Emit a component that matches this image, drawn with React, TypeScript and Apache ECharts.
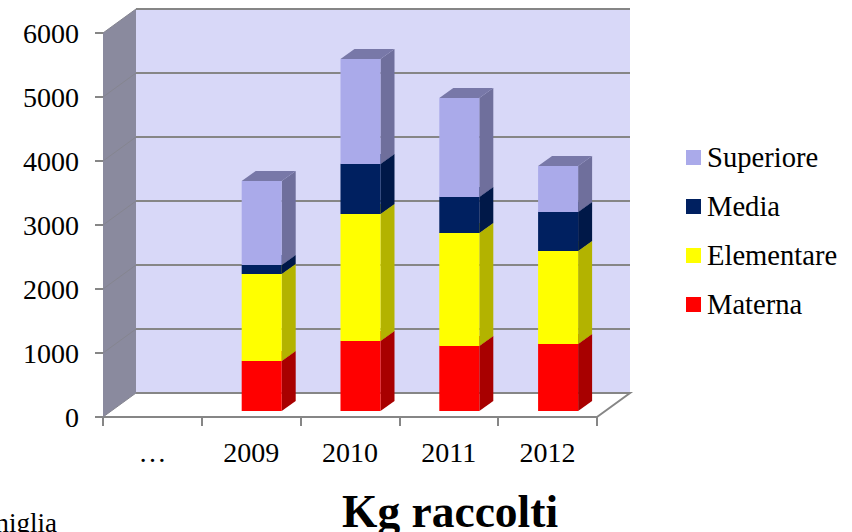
import React, { useEffect, useRef } from "react";
import * as echarts from "echarts";

const categories = ["…", "2009", "2010", "2011", "2012"];
const yearIndex = [1, 2, 3, 4];
const yTicks = [0, 1000, 2000, 3000, 4000, 5000, 6000];
const materna = [781, 1094, 1016, 1047];
const elementare = [1360, 1984, 1765, 1453];
const media = [140, 781, 563, 609];
const superiore = [1313, 1641, 1547, 719];

const FONT = "Liberation Serif";
const DX = 33, DY = 24;

const stacked = (vals: number[], below: number[][]) =>
  vals.map((v, i) => {
    const base = below.reduce((s, a) => s + a[i], 0);
    return [yearIndex[i], base, base + v];
  });

const barItem = (front: string, side: string, top: string) => (params: any, api: any) => {
  const c = api.coord([api.value(0), api.value(1)]);
  const t = api.coord([api.value(0), api.value(2)]);
  const band = api.size([1, 0])[0];
  const w = band * 0.405;
  const x0 = c[0] + 10.5 - w / 2;
  const x1 = x0 + w;
  const y0 = c[1] - 6;
  const y1 = t[1] - 6;
  const dx = 14, dy = 10;
  return {
    type: "group",
    children: [
      { type: "polygon", shape: { points: [[x1, y0], [x1 + dx, y0 - dy], [x1 + dx, y1 - dy], [x1, y1]] }, style: { fill: side } },
      { type: "polygon", shape: { points: [[x0, y1], [x1, y1], [x1 + dx, y1 - dy], [x0 + dx, y1 - dy]] }, style: { fill: top } },
      { type: "rect", shape: { x: x0, y: y1, width: w, height: y0 - y1 }, style: { fill: front } },
    ],
  };
};

const wallItem = (params: any, api: any) => {
  const cs = params.coordSys;
  const x = cs.x, r = cs.x + cs.width, top = cs.y, bot = cs.y + cs.height;
  return {
    type: "group",
    children: [
      { type: "polygon", shape: { points: [[x + DX, top - DY], [r + DX, top - DY], [r + DX, bot - DY], [x + DX, bot - DY]] }, style: { fill: "#d8d8f8" } },
      { type: "polygon", shape: { points: [[x, top], [x + DX, top - DY], [x + DX, bot - DY], [x, bot]] }, style: { fill: "#8a8a9e" } },
      { type: "polyline", shape: { points: [[x + DX, bot - DY], [r + DX, bot - DY], [r, bot]] }, style: { fill: "none", stroke: "#868686", lineWidth: 2 } },
    ],
  };
};

const gridItem = (params: any, api: any) => {
  const cs = params.coordSys;
  const y = api.coord([0, api.value(0)])[1];
  return {
    type: "group",
    children: [
      { type: "line", shape: { x1: cs.x, y1: y, x2: cs.x + DX, y2: y - DY }, style: { stroke: "#858590", lineWidth: 1 } },
      { type: "line", shape: { x1: cs.x + DX, y1: y - DY, x2: cs.x + cs.width + DX, y2: y - DY }, style: { stroke: "#868686", lineWidth: 2 } },
    ],
  };
};

const segments = [
  { name: "Materna", values: materna, below: [], front: "#ff0000", side: "#a80000", top: "#c00000" },
  { name: "Elementare", values: elementare, below: [materna], front: "#ffff00", side: "#b3b300", top: "#c8c800" },
  { name: "Media", values: media, below: [materna, elementare], front: "#002060", side: "#001848", top: "#001a50" },
  { name: "Superiore", values: superiore, below: [materna, elementare, media], front: "#aaaaea", side: "#6f6f9c", top: "#7878a8" },
];

export default function App() {
  const ref = useRef<HTMLDivElement>(null);
  useEffect(() => {
    const chart = echarts.init(ref.current!, undefined, { renderer: "svg" });
    chart.setOption({
      animation: false,
      backgroundColor: "#ffffff",
      textStyle: { fontFamily: FONT },
      grid: { left: 103, top: 33, width: 494, height: 384 },
      xAxis: {
        type: "category",
        data: categories,
        boundaryGap: true,
        axisLine: { show: true, lineStyle: { color: "#868686", width: 2 } },
        axisTick: { show: true, interval: 0, length: 9, lineStyle: { color: "#868686", width: 2 }, alignWithLabel: false },
        axisLabel: { color: "#000", fontFamily: FONT, fontSize: 28, margin: 21, interval: 0 },
      },
      yAxis: {
        type: "value",
        min: 0,
        max: 6000,
        interval: 1000,
        axisLine: { show: true, lineStyle: { color: "#868686", width: 1 } },
        axisTick: { show: true, length: 8, lineStyle: { color: "#868686", width: 2 } },
        splitLine: { show: false },
        axisLabel: { color: "#000", fontFamily: FONT, fontSize: 28, margin: 24, formatter: (v: number) => String(v) },
      },
      legend: {
        orient: "vertical",
        left: 686,
        top: 143,
        padding: 0,
        itemWidth: 15,
        itemHeight: 15,
        itemGap: 20,
        selectedMode: false,
        icon: "rect",
        data: ["Superiore", "Media", "Elementare", "Materna"],
        textStyle: { color: "#000", fontFamily: FONT, fontSize: 28.6, padding: [0, 0, 0, 1] },
      },
      title: {
        text: "Kg raccolti",
        left: 342,
        top: 488,
        textStyle: { color: "#000", fontFamily: FONT, fontSize: 45.5, fontWeight: "bold" },
        padding: 0,
      },
      graphic: [
        {
          type: "text",
          right: 795,
          top: 509,
          style: { text: "Famiglia", fill: "#000", font: `27px "${FONT}"` },
        },
      ],
      series: [
        { type: "custom", name: "wall", silent: true, z: 1, renderItem: wallItem, data: [[0]], encode: { y: 0 }, coordinateSystem: "cartesian2d" },
        { type: "custom", name: "grid", silent: true, z: 1, renderItem: gridItem, data: yTicks.map((v) => [v]), encode: { y: 0 }, coordinateSystem: "cartesian2d" },
        ...segments.map((s) => ({
          type: "custom",
          name: s.name,
          z: 2,
          coordinateSystem: "cartesian2d",
          renderItem: barItem(s.front, s.side, s.top),
          itemStyle: { color: s.front },
          encode: { x: 0, y: [1, 2] },
          data: stacked(s.values, s.below),
        })),
      ],
    });
    return () => chart.dispose();
  }, []);
  return <div ref={ref} style={{ position: "fixed", left: 0, top: 0, width: 852, height: 532 }} />;
}
